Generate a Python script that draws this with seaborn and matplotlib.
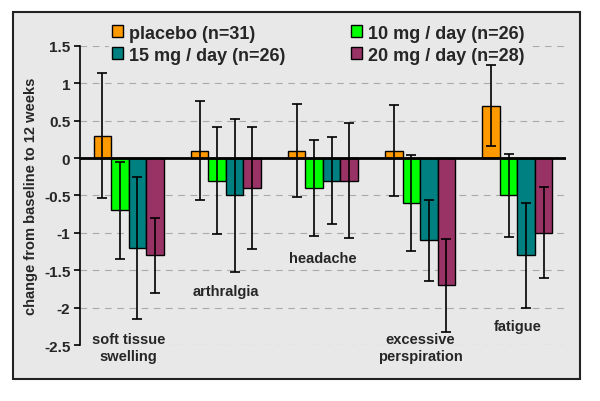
import numpy as np
import pandas as pd
import matplotlib.pyplot as plt
import seaborn as sns
from matplotlib.patches import Rectangle

sns.set_style('white')
plt.rcParams['font.family'] = ['Liberation Sans', 'DejaVu Sans']
plt.rcParams['font.weight'] = 'bold'

# data
categories = ['soft tissue\nswelling', 'arthralgia', 'headache',
              'excessive\nperspiration', 'fatigue']
groups = ['placebo (n=31)', '10 mg / day (n=26)', '15 mg / day (n=26)', '20 mg / day (n=28)']
placebo = [0.3, 0.1, 0.1, 0.1, 0.7]
mg10 = [-0.7, -0.3, -0.4, -0.6, -0.5]
mg15 = [-1.2, -0.5, -0.3, -1.1, -1.3]
mg20 = [-1.3, -0.4, -0.3, -1.7, -1.0]
err_placebo = [0.84, 0.66, 0.62, 0.61, 0.54]
err_10 = [0.65, 0.72, 0.64, 0.64, 0.56]
err_15 = [0.95, 1.03, 0.58, 0.54, 0.70]
err_20 = [0.50, 0.81, 0.77, 0.62, 0.61]
label_y = [-2.53, -1.78, -1.33, -2.53, -2.24]

colors = ['#FF9900', '#00FF00', '#008080', '#993366']
bg = '#E8E8E8'

values = [placebo, mg10, mg15, mg20]
errs = [err_placebo, err_10, err_15, err_20]
rows = []
for g, vals in zip(groups, values):
    for c, v in zip(categories, vals):
        rows.append({'category': c, 'group': g, 'change': v})
df = pd.DataFrame(rows)

fig = plt.figure(figsize=(6, 4.02), dpi=100)
fig.patches.append(Rectangle((0.0217, 0.0547), 0.945, 0.913, transform=fig.transFigure,
                             facecolor=bg, edgecolor='#222222', linewidth=1.5, zorder=-5))
ax = fig.add_axes([0.1333, 0.1393, 0.81, 0.7438])
ax.set_facecolor('none')

sns.barplot(data=df, x='category', y='change', hue='group', hue_order=groups,
            palette=colors, saturation=1, width=0.72, errorbar=None, edgecolor='black',
            linewidth=1, ax=ax, zorder=3)

for cont, e in zip(ax.containers, errs):
    xs = [p.get_x() + p.get_width() / 2 for p in cont.patches]
    ys = [p.get_height() for p in cont.patches]
    ax.errorbar(xs, ys, yerr=e, fmt='none', ecolor='black', elinewidth=1.2,
                capsize=3.3, capthick=1.2, zorder=4)

ax.set_xlim(-0.5, 4.5)
ax.set_ylim(-2.5, 1.5)
ax.set_yticks(np.arange(-2.5, 1.51, 0.5))
ax.set_yticklabels(['-2.5', '-2', '-1.5', '-1', '-0.5', '0', '0.5', '1', '1.5'],
                   fontsize=11, fontweight='bold')
ax.set_xticks([])
ax.set_xlabel('')
ax.set_ylabel('change from baseline to 12 weeks', fontsize=10.5, fontweight='bold')
ax.yaxis.set_label_coords(-0.087, 0.5)
ax.tick_params(axis='y', direction='out', length=4, width=1.2, color='black', pad=3, left=True)
for s in ['top', 'right', 'bottom']:
    ax.spines[s].set_visible(False)
ax.spines['left'].set_color('black')
ax.spines['left'].set_linewidth(1.2)

for y in np.arange(-2.5, 1.51, 0.5):
    if abs(y) > 1e-9:
        ax.axhline(y, color='#AAAAAA', lw=0.8, ls=(0, (6, 5)), zorder=1)
ax.axhline(0, color='black', lw=2, zorder=5)

for i, (c, ly) in enumerate(zip(categories, label_y)):
    ax.text(i, ly, c, ha='center', va='center', fontsize=10.5, fontweight='bold',
            linespacing=1.25, zorder=6)

handles, labels = ax.get_legend_handles_labels()
order = [0, 2, 1, 3]
leg = ax.legend([handles[k] for k in order], [labels[k] for k in order], ncol=2,
                loc='upper left', bbox_to_anchor=(0.166, 0.968),
                bbox_transform=fig.transFigure, frameon=True, facecolor=bg, edgecolor=bg,
                fancybox=False, prop={'size': 13, 'weight': 'bold'},
                handlelength=0.6, handleheight=0.6, handletextpad=0.35,
                columnspacing=3.6, labelspacing=0.28, borderpad=0.2)
leg.get_frame().set_alpha(1)
leg.set_zorder(3.5)

plt.savefig('out.png', dpi=100)
